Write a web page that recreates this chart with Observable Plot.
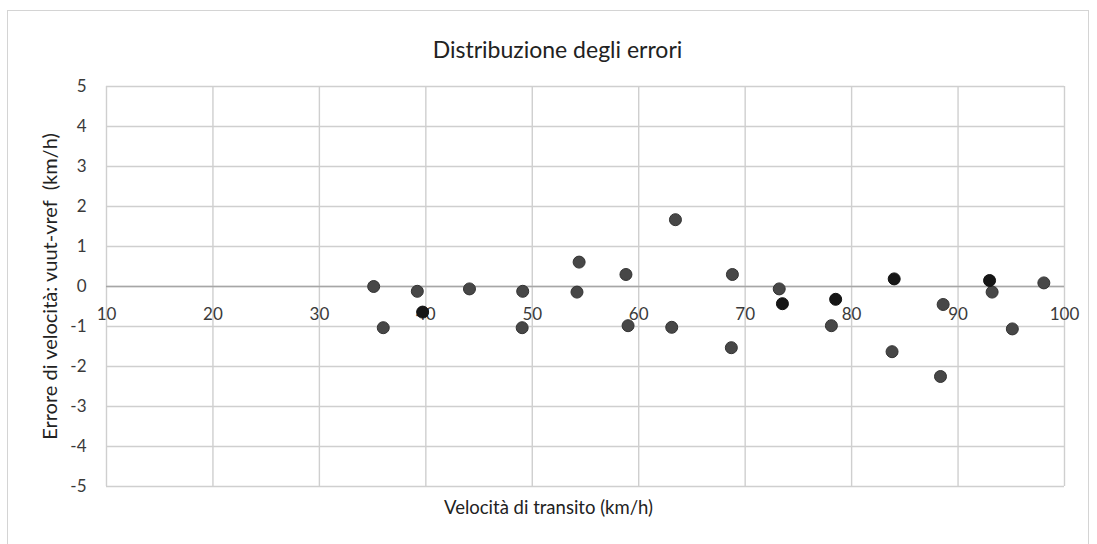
<!DOCTYPE html>
<html>
<head>
<meta charset="utf-8">
<script src="https://cdn.jsdelivr.net/npm/d3@7"></script>
<script src="https://cdn.jsdelivr.net/npm/@observablehq/plot@0.6"></script>
<style>
  html, body { margin: 0; padding: 0; background: #fff; }
  #wrap { position: relative; width: 1097px; height: 544px; }
  #border { position: absolute; left: 7px; top: 10px; width: 1082px; height: 540px; border: 1px solid #d4d4d4; box-sizing: border-box; pointer-events: none; }
</style>
</head>
<body>
<div id="wrap"><div id="border"></div></div>
<script>
const title = "Distribuzione degli errori";
const xLabel = "Velocità di transito (km/h)";
const yLabel = "Errore di velocità: vuut-vref  (km/h)";
const xTicks = [10, 20, 30, 40, 50, 60, 70, 80, 90, 100];
const yTicks = [-5, -4, -3, -2, -1, 0, 1, 2, 3, 4, 5];

// grey markers
const greySpeed = [35.1, 36.0, 39.2, 44.1, 49.1, 49.05, 54.4, 54.2, 58.8, 59.0, 63.45, 63.1, 68.8, 68.7, 73.2, 78.1, 83.8, 88.6, 88.35, 93.2, 95.1, 98.06];
const greyError = [0.0, -1.03, -0.12, -0.06, -0.12, -1.03, 0.61, -0.14, 0.30, -0.98, 1.67, -1.02, 0.30, -1.53, -0.06, -0.98, -1.63, -0.45, -2.25, -0.14, -1.06, 0.09];
// black markers
const darkSpeed = [39.7, 73.5, 78.5, 84.0, 92.96];
const darkError = [-0.64, -0.43, -0.32, 0.19, 0.15];

const grey = greySpeed.map((v, i) => ({x: v, y: greyError[i]}));
const dark = darkSpeed.map((v, i) => ({x: v, y: darkError[i]}));

const font = "Lato, 'Open Sans', sans-serif";

const chart = Plot.plot({
  width: 1097,
  height: 544,
  marginLeft: 106,
  marginRight: 33,
  marginTop: 86,
  marginBottom: 58,
  style: {fontFamily: font, fontSize: "16px", color: "#404040", background: "transparent"},
  x: {domain: [10, 100], axis: null},
  y: {domain: [-5, 5]},
  marks: [
    Plot.gridX(xTicks, {stroke: "#cfcfcf", strokeOpacity: 1, strokeWidth: 1.4}),
    Plot.gridY(yTicks, {stroke: "#cfcfcf", strokeOpacity: 1, strokeWidth: 1.4}),
    Plot.ruleY([0], {stroke: "#a6a6a6", strokeWidth: 1.6}),
    Plot.axisY(yTicks, {tickSize: 0, tickPadding: 20, fontSize: 17, fill: "#3a3a3a", label: null, tickFormat: d => String(d)}),
    Plot.text(xTicks, {x: d => d, y: 0, dy: 28, text: d => String(d), fontSize: 17, fill: "#3a3a3a"}),
    Plot.dot(grey, {x: "x", y: "y", r: 6, fill: "#474747", stroke: "#333", strokeWidth: 1}),
    Plot.dot(dark, {x: "x", y: "y", r: 6, fill: "#161616", stroke: "#111", strokeWidth: 1}),
    Plot.text([title], {frameAnchor: "top", dx: -28, dy: -45, fontSize: 23, fill: "#222", text: d => d}),
    Plot.text([xLabel], {frameAnchor: "bottom", dx: -37, dy: 27, fontSize: 18.5, fill: "#222", text: d => d}),
    Plot.text([yLabel], {frameAnchor: "left", textAnchor: "middle", dx: -56, rotate: -90, fontSize: 20, fill: "#222", text: d => d})
  ]
});
document.getElementById("wrap").prepend(chart);
chart.style.position = "absolute";
chart.style.left = "0";
chart.style.top = "0";
</script>
</body>
</html>
